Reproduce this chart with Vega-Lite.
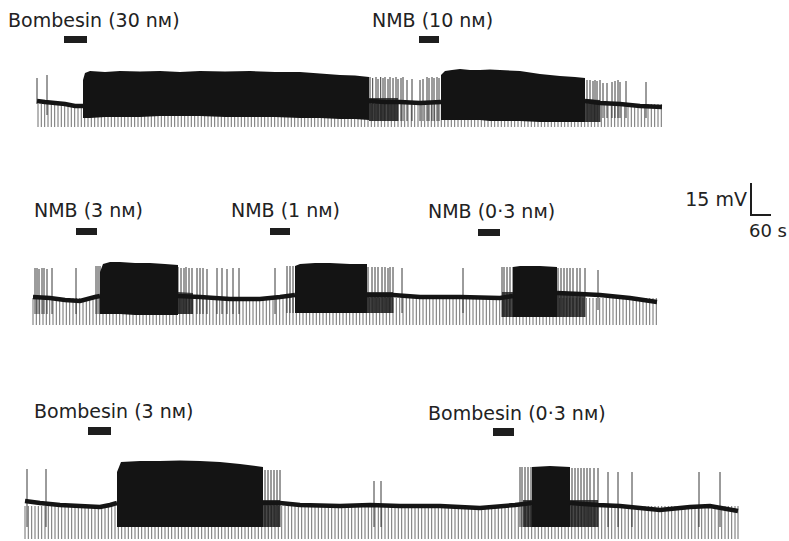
{
"$schema":"https://vega.github.io/schema/vega-lite/v6.json",
"width":789,"height":541,"padding":0,
"autosize":{"type":"none"},
"background":"#ffffff",
"config":{"view":{"stroke":null}},
"datasets":{
"spikes1":[38,41.3,44.7,48,51.3,54.7,58,61.3,64.7,68,71.3,74.7,78,81.3,84.7,88,91.3,94.7,98,101.3,104.7,108,111.3,114.7,118,121.3,124.7,128,131.3,134.7,138,141.3,144.7,148,151.3,154.7,158,161.3,164.7,168,171.3,174.7,178,181.3,184.7,188,191.3,194.7,198,201.3,204.7,208,211.3,214.7,218,221.3,224.7,228,231.3,234.7,238,241.3,244.7,248,251.3,254.7,258,261.3,264.7,268,271.3,274.7,278,281.3,284.7,288,291.3,294.7,298,301.3,304.7,308,311.3,314.7,318,321.3,324.7,328,331.3,334.7,338,341.3,344.7,348,351.3,354.7,358,361.3,364.7,368,371.3,374.7,378,381.3,384.7,388,391.3,394.7,398,401.3,404.7,408,411.3,414.7,418,421.3,424.7,428,431.3,434.7,438,441.3,444.7,448,451.3,454.7,458,461.3,464.7,468,471.3,474.7,478,481.3,484.7,488,491.3,494.7,498,501.3,504.7,508,511.3,514.7,518,521.3,524.7,528,531.3,534.7,538,541.3,544.7,548,551.3,554.7,558,561.3,564.7,568,571.3,574.7,578,581.3,584.7,588,591.3,594.7,598,601.3,604.7,608,611.3,614.7,618,621.3,624.7,628,631.3,634.7,638,641.3,644.7,648,651.3,654.7,658,661.3],
"spikes2":[33,36.3,39.7,43,46.3,49.7,53,56.3,59.7,63,66.3,69.7,73,76.3,79.7,83,86.3,89.7,93,96.3,99.7,103,106.3,109.7,113,116.3,119.7,123,126.3,129.7,133,136.3,139.7,143,146.3,149.7,153,156.3,159.7,163,166.3,169.7,173,176.3,179.7,183,186.3,189.7,193,196.3,199.7,203,206.3,209.7,213,216.3,219.7,223,226.3,229.7,233,236.3,239.7,243,246.3,249.7,253,256.3,259.7,263,266.3,269.7,273,276.3,279.7,283,286.3,289.7,293,296.3,299.7,303,306.3,309.7,313,316.3,319.7,323,326.3,329.7,333,336.3,339.7,343,346.3,349.7,353,356.3,359.7,363,366.3,369.7,373,376.3,379.7,383,386.3,389.7,393,396.3,399.7,403,406.3,409.7,413,416.3,419.7,423,426.3,429.7,433,436.3,439.7,443,446.3,449.7,453,456.3,459.7,463,466.3,469.7,473,476.3,479.7,483,486.3,489.7,493,496.3,499.7,503,506.3,509.7,513,516.3,519.7,523,526.3,529.7,533,536.3,539.7,543,546.3,549.7,553,556.3,559.7,563,566.3,569.7,573,576.3,579.7,583,586.3,589.7,593,596.3,599.7,603,606.3,609.7,613,616.3,619.7,623,626.3,629.7,633,636.3,639.7,643,646.3,649.7,653,656.3],
"spikes3":[25,28.3,31.7,35,38.3,41.7,45,48.3,51.7,55,58.3,61.7,65,68.3,71.7,75,78.3,81.7,85,88.3,91.7,95,98.3,101.7,105,108.3,111.7,115,118.3,121.7,125,128.3,131.7,135,138.3,141.7,145,148.3,151.7,155,158.3,161.7,165,168.3,171.7,175,178.3,181.7,185,188.3,191.7,195,198.3,201.7,205,208.3,211.7,215,218.3,221.7,225,228.3,231.7,235,238.3,241.7,245,248.3,251.7,255,258.3,261.7,265,268.3,271.7,275,278.3,281.7,285,288.3,291.7,295,298.3,301.7,305,308.3,311.7,315,318.3,321.7,325,328.3,331.7,335,338.3,341.7,345,348.3,351.7,355,358.3,361.7,365,368.3,371.7,375,378.3,381.7,385,388.3,391.7,395,398.3,401.7,405,408.3,411.7,415,418.3,421.7,425,428.3,431.7,435,438.3,441.7,445,448.3,451.7,455,458.3,461.7,465,468.3,471.7,475,478.3,481.7,485,488.3,491.7,495,498.3,501.7,505,508.3,511.7,515,518.3,521.7,525,528.3,531.7,535,538.3,541.7,545,548.3,551.7,555,558.3,561.7,565,568.3,571.7,575,578.3,581.7,585,588.3,591.7,595,598.3,601.7,605,608.3,611.7,615,618.3,621.7,625,628.3,631.7,635,638.3,641.7,645,648.3,651.7,655,658.3,661.7,665,668.3,671.7,675,678.3,681.7,685,688.3,691.7,695,698.3,701.7,705,708.3,711.7,715,718.3,721.7,725,728.3,731.7,735,738],
"aps":[
{"t":37,"u":78,"lo":104},{"t":47,"u":75,"lo":115},
{"t":370,"u":77,"lo":121},{"t":372.7,"u":78,"lo":121},{"t":376,"u":77,"lo":121},{"t":378,"u":79,"lo":121},{"t":380.7,"u":77,"lo":121},{"t":383,"u":78,"lo":121},{"t":385,"u":77,"lo":121},{"t":388,"u":79,"lo":121},{"t":390,"u":77,"lo":121},{"t":393,"u":78,"lo":121},{"t":396,"u":77,"lo":121},{"t":398,"u":79,"lo":121},{"t":401,"u":78,"lo":121},{"t":403,"u":77,"lo":121},{"t":407,"u":80,"lo":121},{"t":412,"u":79,"lo":121},{"t":420,"u":80,"lo":121},{"t":423,"u":79,"lo":121},{"t":427,"u":77,"lo":121},{"t":429,"u":78,"lo":121},{"t":432,"u":77,"lo":121},{"t":434,"u":78,"lo":121},{"t":437,"u":77,"lo":121},{"t":439,"u":78,"lo":121},
{"t":587,"u":80,"lo":122},{"t":590,"u":80,"lo":122},{"t":593,"u":81,"lo":122},{"t":595,"u":80,"lo":122},{"t":597,"u":81,"lo":122},{"t":600,"u":80,"lo":122},{"t":603,"u":83,"lo":118},{"t":607,"u":83,"lo":118},{"t":612,"u":82,"lo":118},{"t":615,"u":81,"lo":118},{"t":618,"u":80,"lo":118},{"t":620,"u":82,"lo":118},{"t":626,"u":81,"lo":118},{"t":646,"u":82,"lo":118},
{"t":35,"u":268,"lo":314},{"t":37,"u":268,"lo":314},{"t":39,"u":269,"lo":314},{"t":42,"u":268,"lo":314},{"t":44,"u":268,"lo":314},{"t":47,"u":269,"lo":314},{"t":52,"u":268,"lo":314},{"t":76,"u":268,"lo":314},{"t":96,"u":266,"lo":314},{"t":98,"u":266,"lo":314},{"t":100,"u":266,"lo":314},
{"t":178,"u":267,"lo":314},{"t":181,"u":268,"lo":314},{"t":184,"u":268,"lo":314},{"t":186,"u":267,"lo":314},{"t":189,"u":268,"lo":314},{"t":192,"u":268,"lo":314},{"t":197,"u":268,"lo":314},{"t":200,"u":268,"lo":314},{"t":203,"u":268,"lo":314},{"t":207,"u":269,"lo":314},{"t":217,"u":268,"lo":314},{"t":222,"u":268,"lo":314},{"t":227,"u":269,"lo":314},{"t":233,"u":268,"lo":314},{"t":239,"u":268,"lo":314},{"t":275,"u":268,"lo":314},{"t":287,"u":266,"lo":313},{"t":290,"u":266,"lo":313},{"t":293,"u":266,"lo":313},
{"t":368,"u":267,"lo":313},{"t":372,"u":267,"lo":313},{"t":375,"u":267,"lo":313},{"t":378,"u":267,"lo":313},{"t":382,"u":267,"lo":313},{"t":385,"u":267,"lo":313},{"t":388,"u":268,"lo":313},{"t":390,"u":267,"lo":313},{"t":393,"u":267,"lo":313},{"t":402,"u":268,"lo":313},{"t":463,"u":268,"lo":313},
{"t":502,"u":267,"lo":317},{"t":504,"u":267,"lo":317},{"t":507,"u":267,"lo":317},{"t":510,"u":267,"lo":317},{"t":513,"u":267,"lo":317},{"t":558,"u":268,"lo":317},{"t":561,"u":268,"lo":317},{"t":564,"u":268,"lo":317},{"t":567,"u":268,"lo":317},{"t":570,"u":268,"lo":317},{"t":573,"u":268,"lo":317},{"t":577,"u":268,"lo":317},{"t":580,"u":268,"lo":317},{"t":585,"u":268,"lo":317},{"t":598,"u":270,"lo":310},
{"t":27,"u":469,"lo":527},{"t":46,"u":469,"lo":527},{"t":265,"u":470,"lo":527},{"t":268,"u":470,"lo":527},{"t":271,"u":470,"lo":527},{"t":274,"u":470,"lo":527},{"t":277,"u":470,"lo":527},{"t":280,"u":470,"lo":527},{"t":374,"u":481,"lo":527},{"t":381,"u":481,"lo":527},
{"t":520,"u":467,"lo":527},{"t":522,"u":467,"lo":527},{"t":525,"u":467,"lo":527},{"t":528,"u":467,"lo":527},{"t":531,"u":467,"lo":527},{"t":572,"u":468,"lo":527},{"t":575,"u":468,"lo":527},{"t":578,"u":468,"lo":527},{"t":581,"u":468,"lo":527},{"t":584,"u":468,"lo":527},{"t":587,"u":468,"lo":527},{"t":590,"u":468,"lo":527},{"t":594,"u":468,"lo":527},{"t":598,"u":468,"lo":527},{"t":608,"u":472,"lo":527},{"t":618,"u":472,"lo":527},{"t":632,"u":472,"lo":527},{"t":699,"u":472,"lo":527},{"t":720,"u":472,"lo":527}
],
"bursts":[
{"b":"1A","t":83,"top":80,"bot":118},{"b":"1A","t":85,"top":73,"bot":118},{"b":"1A","t":90,"top":71,"bot":118},{"b":"1A","t":105,"top":72,"bot":117},{"b":"1A","t":120,"top":71,"bot":117},{"b":"1A","t":140,"top":71.5,"bot":117},{"b":"1A","t":160,"top":71,"bot":116},{"b":"1A","t":180,"top":72,"bot":116},{"b":"1A","t":200,"top":71,"bot":116},{"b":"1A","t":225,"top":71.5,"bot":117},{"b":"1A","t":250,"top":71,"bot":117},{"b":"1A","t":275,"top":72,"bot":117},{"b":"1A","t":300,"top":72,"bot":118},{"b":"1A","t":320,"top":73.5,"bot":118},{"b":"1A","t":340,"top":75,"bot":119},{"b":"1A","t":355,"top":75.5,"bot":119},{"b":"1A","t":369,"top":77,"bot":120},
{"b":"1B","t":441,"top":75,"bot":120},{"b":"1B","t":445,"top":71,"bot":120},{"b":"1B","t":452,"top":70,"bot":120},{"b":"1B","t":460,"top":69,"bot":120},{"b":"1B","t":470,"top":70,"bot":120},{"b":"1B","t":480,"top":70,"bot":120},{"b":"1B","t":490,"top":69.5,"bot":121},{"b":"1B","t":500,"top":70,"bot":121},{"b":"1B","t":520,"top":71,"bot":121},{"b":"1B","t":540,"top":74,"bot":122},{"b":"1B","t":560,"top":76,"bot":122},{"b":"1B","t":575,"top":77,"bot":122},{"b":"1B","t":585,"top":78,"bot":122},
{"b":"2A","t":100,"top":272,"bot":314},{"b":"2A","t":103,"top":264,"bot":314},{"b":"2A","t":110,"top":262,"bot":314},{"b":"2A","t":120,"top":262,"bot":314},{"b":"2A","t":135,"top":263,"bot":315},{"b":"2A","t":150,"top":263,"bot":315},{"b":"2A","t":165,"top":264,"bot":315},{"b":"2A","t":178,"top":265,"bot":315},
{"b":"2B","t":295,"top":266,"bot":313},{"b":"2B","t":300,"top":264,"bot":313},{"b":"2B","t":315,"top":263,"bot":313},{"b":"2B","t":330,"top":263,"bot":313},{"b":"2B","t":350,"top":264,"bot":313},{"b":"2B","t":367,"top":264,"bot":313},
{"b":"2C","t":513,"top":267,"bot":317},{"b":"2C","t":520,"top":266,"bot":317},{"b":"2C","t":540,"top":266,"bot":317},{"b":"2C","t":557,"top":267,"bot":317},
{"b":"3A","t":117,"top":472,"bot":527},{"b":"3A","t":121,"top":462,"bot":527},{"b":"3A","t":140,"top":461,"bot":527},{"b":"3A","t":160,"top":461,"bot":527},{"b":"3A","t":180,"top":460.5,"bot":527},{"b":"3A","t":200,"top":461,"bot":527},{"b":"3A","t":220,"top":462,"bot":527},{"b":"3A","t":240,"top":464,"bot":527},{"b":"3A","t":263,"top":467,"bot":527},
{"b":"3B","t":532,"top":467,"bot":527},{"b":"3B","t":550,"top":466,"bot":527},{"b":"3B","t":570,"top":467,"bot":527}
],
"afterbursts":[
{"b":"1a","t":369,"top":98,"bot":121},{"b":"1a","t":398,"top":98,"bot":121},
{"b":"1b","t":585,"top":99,"bot":122},{"b":"1b","t":600,"top":100,"bot":122},
{"b":"2a","t":178,"top":292,"bot":314},{"b":"2a","t":193,"top":293,"bot":314},
{"b":"2b","t":367,"top":292,"bot":313},{"b":"2b","t":393,"top":292,"bot":313},
{"b":"2c","t":502,"top":292,"bot":317},{"b":"2c","t":585,"top":292,"bot":317},
{"b":"3a","t":263,"top":500,"bot":527},{"b":"3a","t":280,"top":500,"bot":527},
{"b":"3b","t":523,"top":500,"bot":527},{"b":"3b","t":598,"top":500,"bot":527}
],
"baselines":[
{"s":"1a","t":37,"v":101},{"s":"1a","t":45,"v":102},{"s":"1a","t":55,"v":103},{"s":"1a","t":65,"v":104},{"s":"1a","t":75,"v":106},{"s":"1a","t":83,"v":106},
{"s":"1b","t":369,"v":101},{"s":"1b","t":385,"v":102},{"s":"1b","t":400,"v":102},{"s":"1b","t":420,"v":103},{"s":"1b","t":441,"v":102},
{"s":"1c","t":585,"v":101},{"s":"1c","t":600,"v":103},{"s":"1c","t":620,"v":104},{"s":"1c","t":640,"v":106},{"s":"1c","t":662,"v":107},
{"s":"2a","t":33,"v":297},{"s":"2a","t":50,"v":298},{"s":"2a","t":65,"v":300},{"s":"2a","t":80,"v":301},{"s":"2a","t":95,"v":297},{"s":"2a","t":100,"v":296},
{"s":"2b","t":178,"v":296},{"s":"2b","t":200,"v":297},{"s":"2b","t":230,"v":299},{"s":"2b","t":260,"v":299},{"s":"2b","t":280,"v":297},{"s":"2b","t":295,"v":295},
{"s":"2c","t":367,"v":295},{"s":"2c","t":393,"v":295},{"s":"2c","t":420,"v":297},{"s":"2c","t":460,"v":297},{"s":"2c","t":500,"v":298},{"s":"2c","t":513,"v":296},
{"s":"2d","t":557,"v":293},{"s":"2d","t":580,"v":294},{"s":"2d","t":600,"v":295},{"s":"2d","t":630,"v":298},{"s":"2d","t":657,"v":302},
{"s":"3a","t":25,"v":501},{"s":"3a","t":40,"v":503},{"s":"3a","t":60,"v":505},{"s":"3a","t":80,"v":506},{"s":"3a","t":100,"v":507},{"s":"3a","t":110,"v":505},{"s":"3a","t":117,"v":503},
{"s":"3b","t":263,"v":503},{"s":"3b","t":280,"v":503},{"s":"3b","t":300,"v":505},{"s":"3b","t":340,"v":506},{"s":"3b","t":370,"v":505},{"s":"3b","t":400,"v":506},{"s":"3b","t":440,"v":506},{"s":"3b","t":480,"v":508},{"s":"3b","t":515,"v":505},{"s":"3b","t":532,"v":503},
{"s":"3c","t":570,"v":503},{"s":"3c","t":598,"v":505},{"s":"3c","t":620,"v":506},{"s":"3c","t":660,"v":510},{"s":"3c","t":690,"v":507},{"s":"3c","t":710,"v":506},{"s":"3c","t":738,"v":511}
],
"drugbars":[
{"t":64,"t2":87,"v":36,"v2":43},{"t":419,"t2":439,"v":36,"v2":43},
{"t":76,"t2":97,"v":228,"v2":235},{"t":270,"t2":290,"v":228,"v2":235},{"t":478,"t2":500,"v":229,"v2":236},
{"t":88,"t2":111,"v":427,"v2":435},{"t":493,"t2":514,"v":428,"v2":436}
],
"labels":[
{"t":8,"v":27,"txt":"Bombesin (30 nᴍ)"},{"t":372,"v":27,"txt":"NMB (10 nᴍ)"},
{"t":34,"v":217,"txt":"NMB (3 nᴍ)"},{"t":231,"v":217,"txt":"NMB (1 nᴍ)"},{"t":428,"v":218,"txt":"NMB (0·3 nᴍ)"},
{"t":34,"v":418,"txt":"Bombesin (3 nᴍ)"},{"t":428,"v":420,"txt":"Bombesin (0·3 nᴍ)"}
],
"rlabels":[{"t":747,"v":206,"txt":"15 mV"}],
"slabels":[{"t":787,"v":237,"txt":"60 s"}],
"scalebar":[{"t":751,"t2":751,"v":183,"v2":215},{"t":750,"t2":771,"v":215,"v2":215}]
},
"encoding":{
"x":{"type":"quantitative","scale":{"domain":[0,789],"nice":false,"zero":false},"axis":null},
"y":{"type":"quantitative","scale":{"domain":[0,541],"reverse":true,"nice":false,"zero":false},"axis":null}
},
"layer":[
{"data":{"name":"spikes1"},"mark":{"type":"rule","color":"#4a4a4a","strokeWidth":0.8},
 "encoding":{"x":{"field":"data","type":"quantitative"},"y":{"datum":104},"y2":{"datum":127}}},
{"data":{"name":"spikes2"},"mark":{"type":"rule","color":"#4a4a4a","strokeWidth":0.8},
 "encoding":{"x":{"field":"data","type":"quantitative"},"y":{"datum":298},"y2":{"datum":325}}},
{"data":{"name":"spikes3"},"mark":{"type":"rule","color":"#4a4a4a","strokeWidth":0.8},
 "encoding":{"x":{"field":"data","type":"quantitative"},"y":{"datum":506},"y2":{"datum":539}}},
{"data":{"name":"afterbursts"},"mark":{"type":"area","color":"#141414","opacity":0.78},
 "encoding":{"x":{"field":"t","type":"quantitative"},"y":{"field":"top","type":"quantitative"},"y2":{"field":"bot"},"detail":{"field":"b"}}},
{"data":{"name":"aps"},"mark":{"type":"rule","color":"#222","strokeWidth":0.9},
 "encoding":{"x":{"field":"t","type":"quantitative"},"y":{"field":"u","type":"quantitative"},"y2":{"field":"lo"}}},
{"data":{"name":"bursts"},"mark":{"type":"area","color":"#141414","opacity":1},
 "encoding":{"x":{"field":"t","type":"quantitative"},"y":{"field":"top","type":"quantitative"},"y2":{"field":"bot"},"detail":{"field":"b"}}},
{"data":{"name":"baselines"},"mark":{"type":"line","color":"#141414","strokeWidth":4.5},
 "encoding":{"x":{"field":"t","type":"quantitative"},"y":{"field":"v","type":"quantitative"},"detail":{"field":"s"}}},
{"data":{"name":"drugbars"},"mark":{"type":"rect","color":"#1e1e1e"},
 "encoding":{"x":{"field":"t","type":"quantitative"},"x2":{"field":"t2"},"y":{"field":"v","type":"quantitative"},"y2":{"field":"v2"}}},
{"data":{"name":"scalebar"},"mark":{"type":"rule","color":"#1e1e1e","strokeWidth":2},
 "encoding":{"x":{"field":"t","type":"quantitative"},"x2":{"field":"t2"},"y":{"field":"v","type":"quantitative"},"y2":{"field":"v2"}}},
{"data":{"name":"labels"},"mark":{"type":"text","align":"left","baseline":"alphabetic","font":"DejaVu Sans","fontSize":19,"color":"#222"},
 "encoding":{"x":{"field":"t","type":"quantitative"},"y":{"field":"v","type":"quantitative"},"text":{"field":"txt"}}},
{"data":{"name":"rlabels"},"mark":{"type":"text","align":"right","baseline":"alphabetic","font":"DejaVu Sans","fontSize":19,"color":"#222"},
 "encoding":{"x":{"field":"t","type":"quantitative"},"y":{"field":"v","type":"quantitative"},"text":{"field":"txt"}}},
{"data":{"name":"slabels"},"mark":{"type":"text","align":"right","baseline":"alphabetic","font":"DejaVu Sans","fontSize":18,"color":"#222"},
 "encoding":{"x":{"field":"t","type":"quantitative"},"y":{"field":"v","type":"quantitative"},"text":{"field":"txt"}}}
]
}
